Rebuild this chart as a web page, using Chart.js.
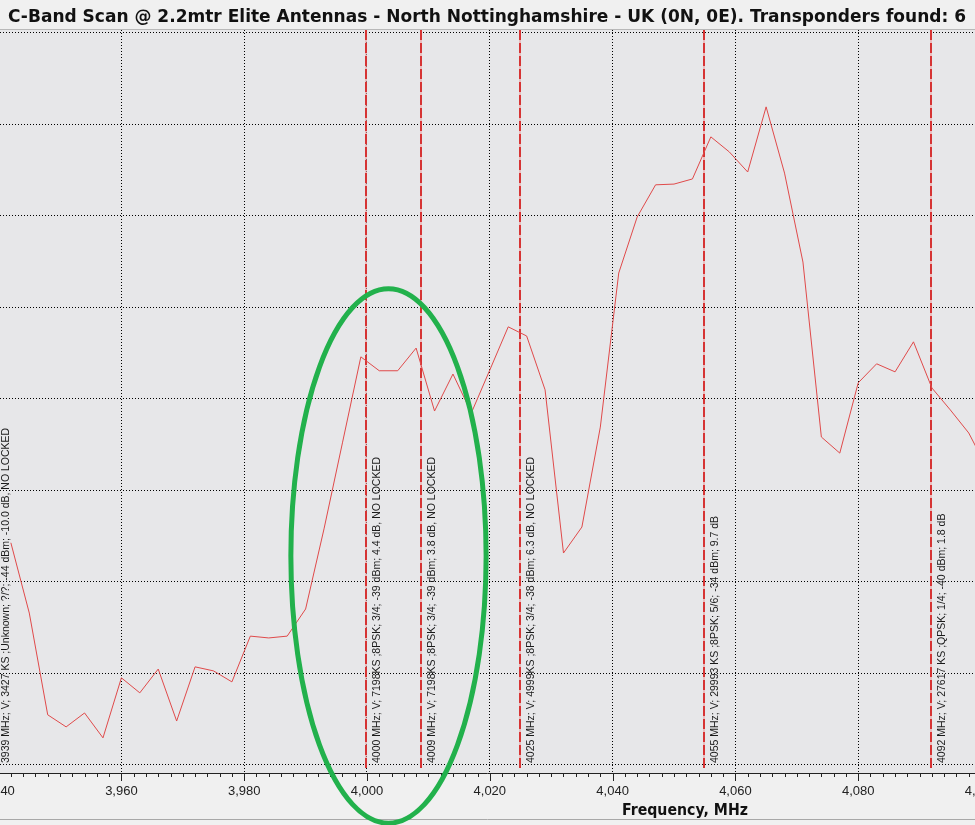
<!DOCTYPE html>
<html>
<head>
<meta charset="utf-8">
<title>C-Band Scan</title>
<script src="https://cdn.jsdelivr.net/npm/chart.js@4.4.1/dist/chart.umd.min.js"></script>
<style>
    html, body { margin: 0; padding: 0; background: #f0f0f0; }
    #wrap { width: 975px; height: 825px; }
</style>
</head>
<body>
<div id="wrap"><canvas id="scan" width="975" height="825"></canvas></div>
<script>
const titleText = 'C-Band Scan @ 2.2mtr Elite Antennas - North Nottinghamshire - UK (0N, 0E). Transponders found: 6';
const axisTitle = 'Frequency, MHz';

// scan samples (MHz) and measured level (dBm)
const freqs = [3942, 3945, 3948, 3951, 3954, 3957, 3960, 3963, 3966, 3969, 3972, 3975, 3978, 3981,
    3984, 3987, 3990, 3993, 3996, 3999, 4002, 4005, 4008, 4011, 4014, 4017, 4020, 4023, 4026, 4029,
    4032, 4035, 4038, 4041, 4044, 4047, 4050, 4053, 4056, 4059, 4062, 4065, 4068, 4071, 4074, 4077,
    4080, 4083, 4086, 4089, 4092, 4095, 4098, 4101];
const levels = [-43.93, -45.85, -48.63, -48.96, -48.58, -49.26, -47.62, -48.03, -47.38, -48.80, -47.32, -47.43, -47.73, -46.48,
    -46.53, -46.48, -45.74, -43.55, -41.20, -38.85, -39.23, -39.23, -38.61, -40.33, -39.32, -40.38, -39.21, -38.03, -38.28, -39.75,
    -44.21, -43.50, -40.77, -36.56, -35.03, -34.15, -34.13, -33.99, -32.84, -33.25, -33.80, -32.02, -33.83, -36.26, -41.04, -41.48,
    -39.56, -39.04, -39.26, -38.44, -39.70, -40.30, -40.93, -41.90];

// transponders found
const tpFreqs = [3939, 4000, 4009, 4025, 4055, 4092];
const tpLabels = [
    '3939 MHz; V; 3427 KS ;Unknown; ?/?; -44 dBm; -10.0 dB, NO LOCKED',
    '4000 MHz; V; 7198KS ;8PSK; 3/4; -39 dBm; 4.4 dB, NO LOCKED',
    '4009 MHz; V; 7198KS ;8PSK; 3/4; -39 dBm; 3.8 dB, NO LOCKED',
    '4025 MHz; V; 4999KS ;8PSK; 3/4; -38 dBm; 6.3 dB, NO LOCKED',
    '4055 MHz; V; 29993 KS ;8PSK; 5/6; -34 dBm; 9.7 dB',
    '4092 MHz; V; 27617 KS ;QPSK; 1/4; -40 dBm; 1.8 dB'
];

// axis ranges / grid
const xRange = [3940.23, 4099.02];
const yRange = [-50.22, -29.92];
const gridLevels = [-50, -47.5, -45, -42.5, -40, -37.5, -35, -32.5, -30];
const majorStep = 20;
const tickFreqs = [];
for (let f = 3940; f <= 4100; f += 2) tickFreqs.push(f);

// hand drawn ring (centre and half sizes in MHz / dB)
const ring = { x: 4003.5, y: -44.29, rx: 15.9, ry: 7.3 };

const fmt = v => v.toLocaleString('en-US');

const scanPlugin = {
    id: 'scanDecor',
    beforeDraw(chart) {
        const { ctx, chartArea: a } = chart;
        ctx.save();
        ctx.fillStyle = '#f0f0f0';
        ctx.fillRect(0, 0, chart.width, chart.height);
        ctx.fillStyle = '#e7e7e9';
        ctx.fillRect(a.left, a.top, a.right - a.left, a.bottom - a.top);
        ctx.strokeStyle = '#b8b8b8';
        ctx.lineWidth = 1;
        ctx.beginPath();
        ctx.moveTo(a.left, a.top - 0.5);
        ctx.lineTo(a.right, a.top - 0.5);
        ctx.stroke();
        ctx.restore();
    },
    beforeDatasetsDraw(chart) {
        const { ctx, chartArea: a, scales: { x } } = chart;
        ctx.save();
        tpFreqs.forEach(f => {
            const px = Math.round(x.getPixelForValue(f)) - 1;
            ctx.lineWidth = 2;
            ctx.setLineDash([]);
            ctx.strokeStyle = 'rgba(240, 160, 160, 0.6)';
            ctx.beginPath();
            ctx.moveTo(px, a.top);
            ctx.lineTo(px, a.bottom - 5);
            ctx.stroke();
            ctx.setLineDash([10, 3]);
            ctx.strokeStyle = '#d63434';
            ctx.beginPath();
            ctx.moveTo(px, a.top);
            ctx.lineTo(px, a.bottom - 5);
            ctx.stroke();
        });
        ctx.restore();
    },
    afterDraw(chart) {
        const { ctx, chartArea: a, scales: { x, y } } = chart;
        ctx.save();

        // transponder captions, reading upwards
        ctx.fillStyle = '#1a1a1a';
        ctx.font = '10.5px "Liberation Sans", Arial, sans-serif';
        ctx.textAlign = 'left';
        ctx.textBaseline = 'top';
        tpFreqs.forEach((f, i) => {
            const px = Math.max(Math.round(x.getPixelForValue(f)) + 5, a.left + 1);
            ctx.save();
            ctx.translate(px, a.bottom - 10);
            ctx.rotate(-Math.PI / 2);
            ctx.fillText(tpLabels[i], 0, 0);
            ctx.restore();
        });

        // axis line + tick marks
        ctx.strokeStyle = '#222';
        ctx.lineWidth = 1;
        ctx.beginPath();
        ctx.moveTo(a.left, a.bottom + 0.5);
        ctx.lineTo(a.right, a.bottom + 0.5);
        tickFreqs.forEach(f => {
            const px = Math.round(x.getPixelForValue(f)) + 0.5;
            const len = f % majorStep === 0 ? 8 : 4;
            ctx.moveTo(px, a.bottom);
            ctx.lineTo(px, a.bottom + len);
        });
        ctx.stroke();

        // bottom frame line
        ctx.strokeStyle = '#a8a8a8';
        ctx.beginPath();
        ctx.moveTo(0, chart.height - 5.5);
        ctx.lineTo(chart.width, chart.height - 5.5);
        ctx.stroke();

        // title, squeezed to the width it has in the scan software
        ctx.fillStyle = '#111';
        ctx.textBaseline = 'alphabetic';
        ctx.font = 'bold 17px "DejaVu Sans", Verdana, sans-serif';
        let w = ctx.measureText(titleText).width;
        ctx.save();
        ctx.translate(8, 22);
        ctx.scale(958 / w, 1);
        ctx.fillText(titleText, 0, 0);
        ctx.restore();

        // axis title
        ctx.font = 'bold 16px "DejaVu Sans", Verdana, sans-serif';
        w = ctx.measureText(axisTitle).width;
        ctx.save();
        ctx.translate(a.left + (a.right - a.left) * 0.7025 - 63, chart.height - 10);
        ctx.scale(126 / w, 1);
        ctx.fillText(axisTitle, 0, 0);
        ctx.restore();

        // green ring
        const cx = x.getPixelForValue(ring.x);
        const cy = y.getPixelForValue(ring.y);
        const rx = x.getPixelForValue(ring.x + ring.rx) - cx;
        const ry = y.getPixelForValue(ring.y - ring.ry) - cy;
        ctx.strokeStyle = '#22b14c';
        ctx.lineWidth = 5;
        ctx.beginPath();
        ctx.ellipse(cx, cy, rx, ry, 0, 0, Math.PI * 2);
        ctx.stroke();

        ctx.restore();
    }
};

document.addEventListener('DOMContentLoaded', () => {
    const ctx = document.getElementById('scan').getContext('2d');
    new Chart(ctx, {
        type: 'line',
        data: {
            datasets: [{
                label: 'Level',
                data: freqs.map((f, i) => ({ x: f, y: levels[i] })),
                borderColor: '#e04a4a',
                borderWidth: 1,
                pointRadius: 0,
                tension: 0,
                fill: false
            }]
        },
        options: {
            responsive: false,
            animation: false,
            devicePixelRatio: 1,
            layout: { padding: { top: 30, left: 0, right: 0, bottom: 0 } },
            plugins: { legend: { display: false }, tooltip: { enabled: false }, title: { display: false } },
            scales: {
                x: {
                    type: 'linear',
                    min: xRange[0],
                    max: xRange[1],
                    afterBuildTicks: s => { s.ticks = tickFreqs.map(v => ({ value: v })); },
                    afterFit: s => { s.height = 52; s.paddingLeft = 0; s.paddingRight = 0; },
                    ticks: {
                        autoSkip: false,
                        maxRotation: 0,
                        padding: 11,
                        color: '#222',
                        font: { family: '"Liberation Sans", Arial, sans-serif', size: 13 },
                        callback: v => (v % majorStep === 0 ? fmt(v) : '')
                    },
                    grid: {
                        drawTicks: false,
                        lineWidth: 1,
                        color: c => (c.tick && c.tick.value % majorStep === 0 ? '#000' : 'transparent')
                    },
                    border: { display: false, dash: [1, 2] }
                },
                y: {
                    min: yRange[0],
                    max: yRange[1],
                    afterBuildTicks: s => { s.ticks = gridLevels.map(v => ({ value: v })); },
                    afterFit: s => { s.width = 0; },
                    ticks: { display: false },
                    grid: { drawTicks: false, color: '#000', lineWidth: 1 },
                    border: { display: false, dash: [1, 2] }
                }
            }
        },
        plugins: [scanPlugin]
    });
});
</script>
</body>
</html>
